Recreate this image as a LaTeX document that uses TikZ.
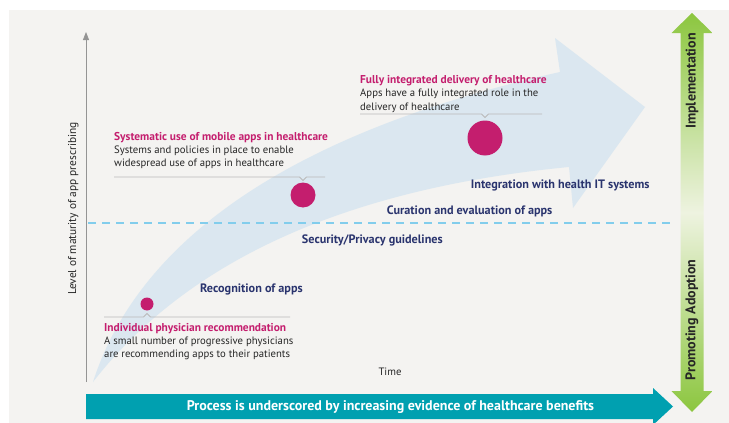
\documentclass[tikz,border=0pt]{standalone}
\usepackage{fontspec}
\setmainfont{PT Sans}
\usepackage{xcolor}
\usepackage{tikz}
\usetikzlibrary{arrows.meta, positioning}
\definecolor{pagegray}{RGB}{244,243,241}
\definecolor{flowblue}{RGB}{219,231,240}
\definecolor{rosered}{RGB}{196,30,110}
\definecolor{inkblue}{RGB}{42,52,110}
\definecolor{tealband}{RGB}{0,160,176}
\definecolor{leafgreen}{RGB}{140,198,63}
\definecolor{paleleaf}{RGB}{238,243,224}
\definecolor{dashblue}{RGB}{130,205,236}
\definecolor{rulegray}{RGB}{185,185,185}
\newcommand{\notehead}[1]{{\fontsize{11.4}{13.3}\selectfont\color{rosered}\bfseries #1}}

\begin{document}
\begin{tikzpicture}[
    x=1pt, y=-1pt,
    note/.style={align=left, inner sep=0pt, anchor=base west, text=black!85,
                 font=\fontsize{10.7}{13.3}\selectfont},
    stage/.style={inner sep=0pt, anchor=base west, text=inkblue,
                  font=\fontsize{12.2}{14}\selectfont\bfseries},
    dot/.style={circle, fill=rosered, inner sep=0pt},
    callout/.style={draw=rulegray, line width=0.8pt},
    axis/.style={-{Triangle[length=8pt, width=6pt]}, draw=rulegray!80!black,
                 line width=0.8pt},
    guide/.style={draw=dashblue, line width=1.3pt, dash pattern=on 8pt off 6pt},
    sidetxt/.style={rotate=90, inner sep=0pt, text=black!85,
                    font=\fontsize{14}{16}\selectfont\bfseries}
  ]
  \useasboundingbox (0,0) rectangle (729,423);
  \fill[pagegray] (9,10) rectangle (729,423);

  \fill[flowblue] (93,382) .. controls (140,235) and (300,130) .. (560,72)
    -- (555,38) -- (645,107) -- (573,208) -- (569,167)
    .. controls (330,190) and (180,270) .. (93,382) -- cycle;

  \coordinate (o) at (86,382);
  \coordinate (ytop) at (86,32);
  \draw[axis] (o) -- (ytop);
  \node[rotate=90, anchor=base, inner sep=0pt, text=black!85,
        font=\fontsize{11.4}{13}\selectfont] (ylab) at (76,208.5)
    {Level of maturity of app prescribing};
  \node[anchor=base, inner sep=0pt, text=black!85,
        font=\fontsize{10.7}{12}\selectfont] (time) at (390,375) {Time};

  \coordinate (g0) at (88,223);
  \coordinate (g1) at (672,223);
  \draw[guide] (g0) -- (g1);

  \node[dot, minimum size=13pt] (c1) at (147,304) {};
  \node[dot, minimum size=25pt] (c2) at (303,195) {};
  \node[dot, minimum size=35pt] (c3) at (485,138) {};

  \coordinate (k1) at (104,317);
  \coordinate (k1e) at (290,317);
  \draw[callout] (k1) -- ([xshift=-3.5pt]c1 |- k1) -- ([yshift=3.5pt]c1 |- k1)
    -- ([xshift=3.5pt]c1 |- k1) -- (k1e);
  \coordinate (k2) at (114,177);
  \coordinate (k2e) at (325,177);
  \draw[callout] (k2) -- ([xshift=-3.5pt]c2 |- k2) -- ([yshift=-3.5pt]c2 |- k2)
    -- ([xshift=3.5pt]c2 |- k2) -- (k2e);
  \coordinate (k3) at (360,114);
  \coordinate (k3e) at (542,114);
  \draw[callout] (k3) -- ([xshift=-3.5pt]c3 |- k3) -- ([yshift=-3.5pt]c3 |- k3)
    -- ([xshift=3.5pt]c3 |- k3) -- (k3e);

  \node[note] (n1) at (104,357.6)
    {\notehead{Individual physician recommendation}\\
     A small number of progressive physicians\\
     are recommending apps to their patients};
  \node[note] (n2) at (114,166.6)
    {\notehead{Systematic use of mobile apps in healthcare}\\
     Systems and policies in place to enable\\
     widespread use of apps in healthcare};
  \node[note] (n3) at (360,110)
    {\notehead{Fully integrated delivery of healthcare}\\
     Apps have a fully integrated role in the\\
     delivery of healthcare};

  \node[stage] (s1) at (200,292.3) {Recognition of apps};
  \node[stage] (s2) at (301.7,243.3) {Security/Privacy guidelines};
  \node[stage] (s3) at (386.7,214.3) {Curation and evaluation of apps};
  \node[stage] (s4) at (470.7,188.3) {Integration with health IT systems};

  \fill[tealband] (86,394) -- (653,394) -- (653,388) -- (673,406.5)
    -- (653,425) -- (653,419) -- (86,419) -- cycle;
  \node[inner sep=0pt, text=white, font=\fontsize{14}{16}\selectfont\bfseries]
    (evid) at (390.5,407)
    {Process is underscored by increasing evidence of healthcare benefits};

  \shade[top color=leafgreen, bottom color=leafgreen, middle color=paleleaf]
    (692,13) -- (712.5,33) -- (703.5,33) -- (703.5,391) -- (712.5,391)
    -- (692,412) -- (671.5,391) -- (680.5,391) -- (680.5,33) -- (671.5,33)
    -- cycle;
  \node[sidetxt] (impl) at (692,81) {Implementation};
  \node[sidetxt] (promo) at (692,320) {Promoting Adoption};
\end{tikzpicture}
\end{document}
